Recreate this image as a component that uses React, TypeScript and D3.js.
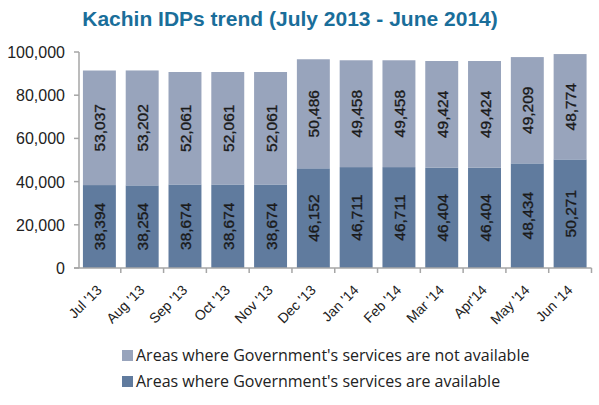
import React from "react";
import * as d3 from "d3";

const months = ["Jul '13", "Aug '13", "Sep '13", "Oct '13", "Nov '13", "Dec '13", "Jan '14", "Feb '14", "Mar '14", "Apr'14", "May '14", "Jun '14"];
const available = [38394, 38254, 38674, 38674, 38674, 46152, 46711, 46711, 46404, 46404, 48434, 50271];
const notAvailable = [53037, 53202, 52061, 52061, 52061, 50486, 49458, 49458, 49424, 49424, 49209, 48774];
const yTicks = [0, 20000, 40000, 60000, 80000, 100000];
const legendLabels = ["Areas where Government's services are not available", "Areas where Government's services are available"];

const W = 599, H = 405;
const colLight = "#98A4BC";
const colDark = "#607B9E";
const axisCol = "#A6A6A6";

export default function App() {
  const x = d3.scaleBand<string>().domain(months).range([78, 591.5]).paddingInner(0.23).paddingOuter(0.115);
  const y = d3.scaleLinear().domain([0, 100000]).range([268, 52]);
  const fmt = d3.format(",");
  const step = x.step();
  const x0 = 78;
  return (
    <svg width={W} height={H} style={{ position: "absolute", left: 0, top: 0, background: "#fff" }} fontFamily="'Liberation Sans', Arial, sans-serif">
      <text x={290} y={26} textAnchor="middle" fontSize={21} fontWeight="bold" fill="#1A6E9A">Kachin IDPs trend (July 2013 - June 2014)</text>
      {months.map((m, i) => {
        const bx = x(m)!;
        const bw = x.bandwidth();
        const a = available[i], n = notAvailable[i];
        const cx = bx + bw / 2;
        const ya = y(a), yt = y(a + n);
        return (
          <g key={m}>
            <rect x={bx} y={ya} width={bw} height={y(0) - ya} fill={colDark} />
            <rect x={bx} y={yt} width={bw} height={ya - yt} fill={colLight} />
            <text transform={`translate(${cx + 6},${(y(0) + ya) / 2}) rotate(-90)`} textAnchor="middle" fontSize={15.5} fill="#1a1a1a" stroke="#1a1a1a" strokeWidth={0.35}>{fmt(a)}</text>
            <text transform={`translate(${cx + 6},${(ya + yt) / 2}) rotate(-90)`} textAnchor="middle" fontSize={15.5} fill="#1a1a1a" stroke="#1a1a1a" strokeWidth={0.35}>{fmt(n)}</text>
            <text transform={`translate(${cx + 3.3},${291}) rotate(-45)`} textAnchor="end" fontSize={14} fill="#222">{m}</text>
          </g>
        );
      })}
      {/* y axis */}
      <line x1={79} x2={79} y1={y(100000)} y2={y(0)} stroke={axisCol} strokeWidth={1.5} />
      {yTicks.map((t) => (
        <g key={t}>
          <line x1={74} x2={79} y1={y(t)} y2={y(t)} stroke={axisCol} strokeWidth={1.5} />
          <text x={65} y={y(t) + 6} textAnchor="end" fontSize={16} fill="#222">{fmt(t)}</text>
        </g>
      ))}
      {/* x axis */}
      <line x1={74} x2={591.5} y1={y(0)} y2={y(0)} stroke={axisCol} strokeWidth={1.5} />
      {months.map((m, i) => (
        <line key={m} x1={x0 + step * (i + 1)} x2={x0 + step * (i + 1)} y1={y(0)} y2={y(0) + 5} stroke={axisCol} strokeWidth={1.5} />
      ))}
      {legendLabels.map((l, i) => (
        <g key={l}>
          <rect x={122} y={350 + i * 26} width={11} height={11} fill={i === 0 ? colLight : colDark} />
          <text x={136} y={360.5 + i * 26} fontSize={16} fill="#222" fontFamily="'Open Sans', sans-serif">{l}</text>
        </g>
      ))}
    </svg>
  );
}
